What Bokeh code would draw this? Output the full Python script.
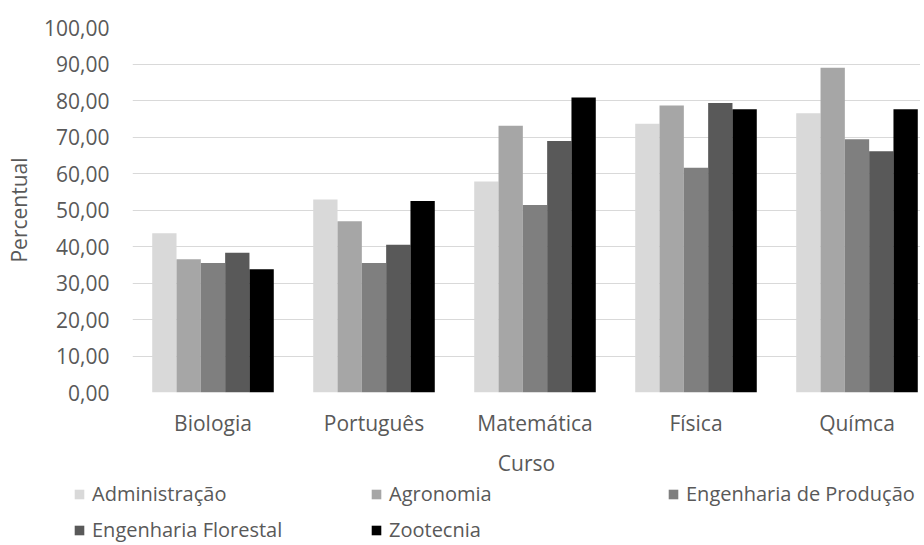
from bokeh.plotting import figure
from bokeh.models import (Range1d, FixedTicker, CustomJSTickFormatter, Legend,
                          LegendItem, ColumnDataSource)
from bokeh.transform import dodge
from bokeh.embed import file_html
from bokeh.resources import INLINE

# ---- data ----
cursos = ["Biologia", "Português", "Matemática", "Física", "Químca"]
series_names = ["Administração", "Agronomia", "Engenharia de Produção",
                "Engenharia Florestal", "Zootecnia"]
administracao = [43.6, 52.9, 57.8, 73.6, 76.5]
agronomia = [36.5, 46.9, 73.1, 78.6, 89.0]
eng_producao = [35.5, 35.5, 51.4, 61.6, 69.4]
eng_florestal = [38.3, 40.5, 68.9, 79.3, 66.1]
zootecnia = [33.8, 52.5, 80.8, 77.6, 77.6]
y_ticks = [0, 10, 20, 30, 40, 50, 60, 70, 80, 90, 100]

colors = ["#d9d9d9", "#a6a6a6", "#7f7f7f", "#595959", "#000000"]
FONT = "Open Sans"
TXT = "#595959"

src = ColumnDataSource(dict(
    x=list(range(len(cursos))),
    adm=administracao, agro=agronomia, prod=eng_producao,
    flor=eng_florestal, zoo=zootecnia,
))
cols = ["adm", "agro", "prod", "flor", "zoo"]

W = 920
LEFT = 132
p = figure(width=W, height=480, output_backend="svg", toolbar_location=None,
           x_range=Range1d(-0.5, -0.5 + (W - LEFT) / 161.0), y_range=Range1d(0, 100),
           min_border_left=LEFT, min_border_right=0, min_border_top=27,
           min_border_bottom=88)
p.outline_line_color = None
p.background_fill_color = "white"
p.border_fill_color = "white"

bw = 0.151
for i, (c, col) in enumerate(zip(cols, colors)):
    p.vbar(x=dodge("x", (i - 2) * bw, range=p.x_range), top=c, width=bw,
           source=src, fill_color=col, line_color=None)

# axes
p.xgrid.grid_line_color = None
p.ygrid.grid_line_color = "#d9d9d9"
p.ygrid.grid_line_width = 1.2
p.ygrid.ticker = FixedTicker(ticks=y_ticks)

p.yaxis.ticker = FixedTicker(ticks=y_ticks)
p.yaxis.formatter = CustomJSTickFormatter(code="return tick.toFixed(2).replace('.', ',');")
p.xaxis.ticker = FixedTicker(ticks=list(range(len(cursos))))
p.xaxis.major_label_overrides = {i: n for i, n in enumerate(cursos)}

for ax in (p.xaxis[0], p.yaxis[0]):
    ax.axis_line_color = None
    ax.major_tick_line_color = None
    ax.minor_tick_line_color = None
    ax.major_tick_out = 0
    ax.major_tick_in = 0
    ax.minor_tick_out = 0
    ax.minor_tick_in = 0
    ax.major_label_text_font = FONT
    ax.major_label_text_font_size = "21px"
    ax.major_label_text_color = TXT
    ax.axis_label_text_font = FONT
    ax.axis_label_text_font_size = "21px"
    ax.axis_label_text_color = TXT
    ax.axis_label_text_font_style = "normal"

p.yaxis.axis_label = "Percentual"
p.yaxis.major_label_standoff = 23
p.yaxis.axis_label_standoff = 8
p.xaxis.axis_label = "Curso"
p.xaxis.major_label_standoff = 16
p.xaxis.axis_label_standoff = 9

# ---- legend strip (separate figure below the chart) ----
LH = 63
lg = figure(width=W, height=LH, output_backend="svg", toolbar_location=None,
            x_range=Range1d(-0.5, 4.5), y_range=Range1d(1000, 1001),
            x_axis_type=None, y_axis_type=None,
            min_border=0, min_border_left=0, min_border_right=0,
            min_border_top=0, min_border_bottom=0)
lg.outline_line_color = None
lg.xgrid.visible = False
lg.ygrid.visible = False
# same series, drawn outside the strip's visible range: only their legend swatches show
swatches = [lg.vbar(x="x", top=c, width=bw, source=src, fill_color=col, line_color=None)
            for c, col in zip(cols, colors)]

rows = [([0, 1, 2], (73, LH - 27)), ([3, 4], (73, 0))]
for idx, loc in rows:
    leg = Legend(items=[LegendItem(label=series_names[k], renderers=[swatches[k]]) for k in idx],
                 orientation="horizontal", location=loc,
                 glyph_width=12, glyph_height=12, label_standoff=7,
                 label_width=240, spacing=38, padding=0, margin=0,
                 border_line_color=None, background_fill_alpha=0,
                 label_text_font=FONT, label_text_font_size="20px",
                 label_text_color=TXT, label_height=12)
    lg.add_layout(leg, "center")

open("out.html", "w").write(file_html([p, lg], INLINE))
